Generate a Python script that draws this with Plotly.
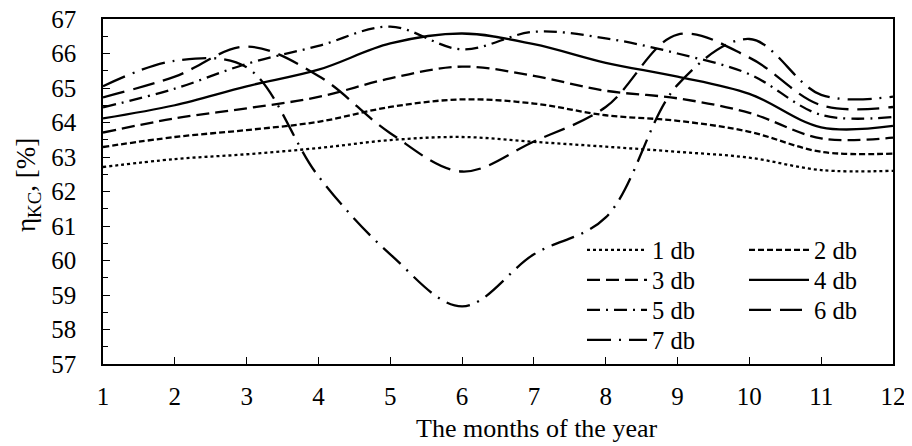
import plotly.graph_objects as go

# ---- data ----
months = [1, 2, 3, 4, 5, 6, 7, 8, 9, 10, 11, 12]
month_labels = ["1", "2", "3", "4", "5", "6", "7", "8", "9", "10", "11", "12"]
y_tick_vals = [57, 58, 59, 60, 61, 62, 63, 64, 65, 66, 67]
series_names = ["1 db", "2 db", "3 db", "4 db", "5 db", "6 db", "7 db"]

db1 = [62.71, 62.94, 63.08, 63.26, 63.49, 63.58, 63.44, 63.30, 63.15, 62.98, 62.62, 62.60]
db2 = [63.29, 63.58, 63.78, 64.02, 64.45, 64.67, 64.55, 64.21, 64.05, 63.73, 63.15, 63.10]
db3 = [63.71, 64.12, 64.41, 64.74, 65.28, 65.62, 65.35, 64.92, 64.70, 64.28, 63.54, 63.56]
db4 = [64.12, 64.50, 65.05, 65.53, 66.29, 66.58, 66.27, 65.73, 65.33, 64.83, 63.86, 63.90]
db5 = [64.44, 64.98, 65.70, 66.22, 66.78, 66.12, 66.63, 66.44, 66.00, 65.40, 64.22, 64.16]
db6 = [64.73, 65.33, 66.20, 65.35, 63.69, 62.58, 63.45, 64.45, 66.55, 65.88, 64.50, 64.45]
db7 = [65.05, 65.79, 65.60, 62.44, 60.18, 58.67, 60.18, 61.25, 65.09, 66.42, 64.80, 64.75]

series_values = [db1, db2, db3, db4, db5, db6, db7]

# ---- styles ----
dash_styles = [
    "dot",
    "6px,3px",
    "13px,6px",
    "solid",
    "13px,6px,2px,6px",
    "22px,9px",
    "24px,8px,2px,8px",
]
legend_ids = ["legend", "legend", "legend2", "legend2", "legend3", "legend3", "legend4"]

FONT = "Liberation Serif, Times New Roman, serif"

fig = go.Figure()
for name, vals, dash, lg in zip(series_names, series_values, dash_styles, legend_ids):
    fig.add_trace(go.Scatter(
        x=months, y=vals, name=name, mode="lines",
        line=dict(color="black", width=2.3, dash=dash, shape="spline", smoothing=1.0),
        legend=lg,
    ))

# the html page has a default 8px body margin: shrink the figure so it fits
OFF = 8
W, H = 912 - OFF, 446 - OFF
PL, PR, PT, PB = 103, 893, 19, 364   # plot area in page pixels
pw, ph = PR - PL, PB - PT
L, T = PL - OFF, PT - OFF
R, B = W - L - pw, H - T - ph


def px_x(x):
    return (x - PL) / pw


def px_y(y):
    return (PB - y) / ph


leg_common = dict(
    orientation="h", x=px_x(582), xanchor="left", yanchor="middle",
    entrywidth=87, entrywidthmode="pixels", itemwidth=60,
    font=dict(family=FONT, size=24.5, color="black"),
    bgcolor="rgba(0,0,0,0)", borderwidth=0, traceorder="normal",
)

fig.update_layout(
    width=W, height=H,
    margin=dict(l=L, r=R, t=T, b=B, pad=0, autoexpand=False),
    paper_bgcolor="white", plot_bgcolor="white",
    font=dict(family=FONT, size=25, color="black"),
    showlegend=True,
    legend=dict(leg_common, y=px_y(250)),
    legend2=dict(leg_common, y=px_y(280)),
    legend3=dict(leg_common, y=px_y(310)),
    legend4=dict(leg_common, y=px_y(340)),
    xaxis=dict(
        range=[1, 12], tickvals=months, ticktext=month_labels,
        ticks="inside", ticklen=7, tickwidth=1.3, tickcolor="black",
        showline=True, linecolor="black", linewidth=1.6, mirror=True,
        showgrid=False, zeroline=False, ticklabelstandoff=9,
        ticklabeloverflow="allow",
        tickfont=dict(family=FONT, size=25, color="black"),
    ),
    yaxis=dict(
        range=[57, 67], tickvals=y_tick_vals,
        ticks="inside", ticklen=7, tickwidth=1.3, tickcolor="black",
        minor=dict(ticks="inside", ticklen=5, dtick=0.5, tickwidth=1.3, tickcolor="black"),
        showline=True, linecolor="black", linewidth=1.6, mirror=True,
        showgrid=False, zeroline=False, ticklabelstandoff=20,
        ticklabeloverflow="allow",
        tickfont=dict(family=FONT, size=25, color="black"),
    ),
    annotations=[
        dict(text="The months of the year", xref="paper", yref="paper",
             x=px_x(536), y=px_y(428), xanchor="center", yanchor="middle",
             showarrow=False, font=dict(family=FONT, size=26, color="black")),
        dict(text="η<sub>KC</sub>, [%]", xref="paper", yref="paper",
             x=px_x(28), y=px_y(185), xanchor="center", yanchor="middle",
             textangle=-90, showarrow=False,
             font=dict(family=FONT, size=27, color="black")),
    ],
)

fig.write_html("out.html")
